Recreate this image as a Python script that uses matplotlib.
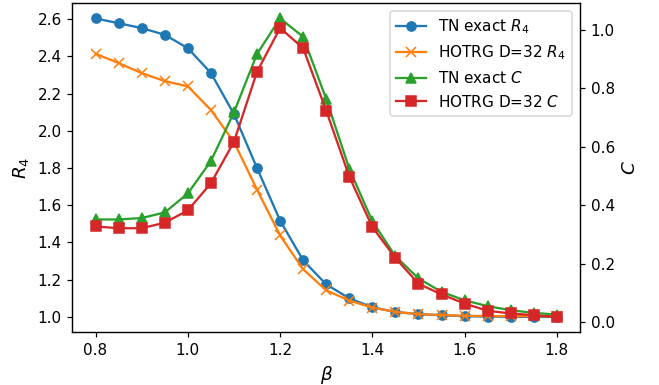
import numpy as np
import matplotlib
matplotlib.use("Agg")
import matplotlib.pyplot as plt

# temperature grid
beta = [0.80, 0.85, 0.90, 0.95, 1.00, 1.05, 1.10, 1.15, 1.20, 1.25, 1.30,
        1.35, 1.40, 1.45, 1.50, 1.55, 1.60, 1.65, 1.70, 1.75, 1.80]

# R4 values
r4_exact = [2.604, 2.578, 2.552, 2.516, 2.444, 2.311, 2.090, 1.800, 1.518, 1.304, 1.175,
            1.100, 1.052, 1.027, 1.015, 1.009, 1.004, 1.002, 1.001, 1.000, 1.000]
r4_hotrg = [2.414, 2.364, 2.310, 2.267, 2.239, 2.112, 1.940, 1.684, 1.438, 1.256, 1.143,
            1.088, 1.050, 1.027, 1.015, 1.010, 1.006, 1.005, 1.004, 1.004, 1.003]

# specific heat
c_exact = [0.351, 0.351, 0.356, 0.375, 0.440, 0.551, 0.718, 0.918, 1.040, 0.977, 0.764,
           0.525, 0.345, 0.225, 0.149, 0.103, 0.074, 0.054, 0.040, 0.031, 0.025]
c_hotrg = [0.327, 0.321, 0.321, 0.340, 0.382, 0.475, 0.617, 0.857, 1.007, 0.938, 0.724,
           0.498, 0.325, 0.219, 0.131, 0.094, 0.063, 0.038, 0.029, 0.023, 0.017]

DPI = 110
fig, ax = plt.subplots(figsize=(659 / DPI, 385 / DPI), dpi=DPI)
fig.subplots_adjust(left=0.110, right=0.880, top=0.991, bottom=0.138)

l1, = ax.plot(beta, r4_exact, marker='o', color='C0', label='TN exact $R_4$')
l2, = ax.plot(beta, r4_hotrg, marker='x', color='C1', label='HOTRG D=32 $R_4$')
ax.set_xlabel(r'$\beta$', fontsize=12)
ax.set_ylabel('$R_4$', fontsize=12)

ax2 = ax.twinx()
l3, = ax2.plot(beta, c_exact, marker='^', color='C2', label='TN exact $C$')
l4, = ax2.plot(beta, c_hotrg, marker='s', color='C3', label='HOTRG D=32 $C$')
ax2.set_ylabel('$C$', fontsize=12)

lines = [l1, l2, l3, l4]
ax2.legend(lines, [l.get_label() for l in lines], loc='upper right')

fig.savefig('out.png', dpi=DPI)
